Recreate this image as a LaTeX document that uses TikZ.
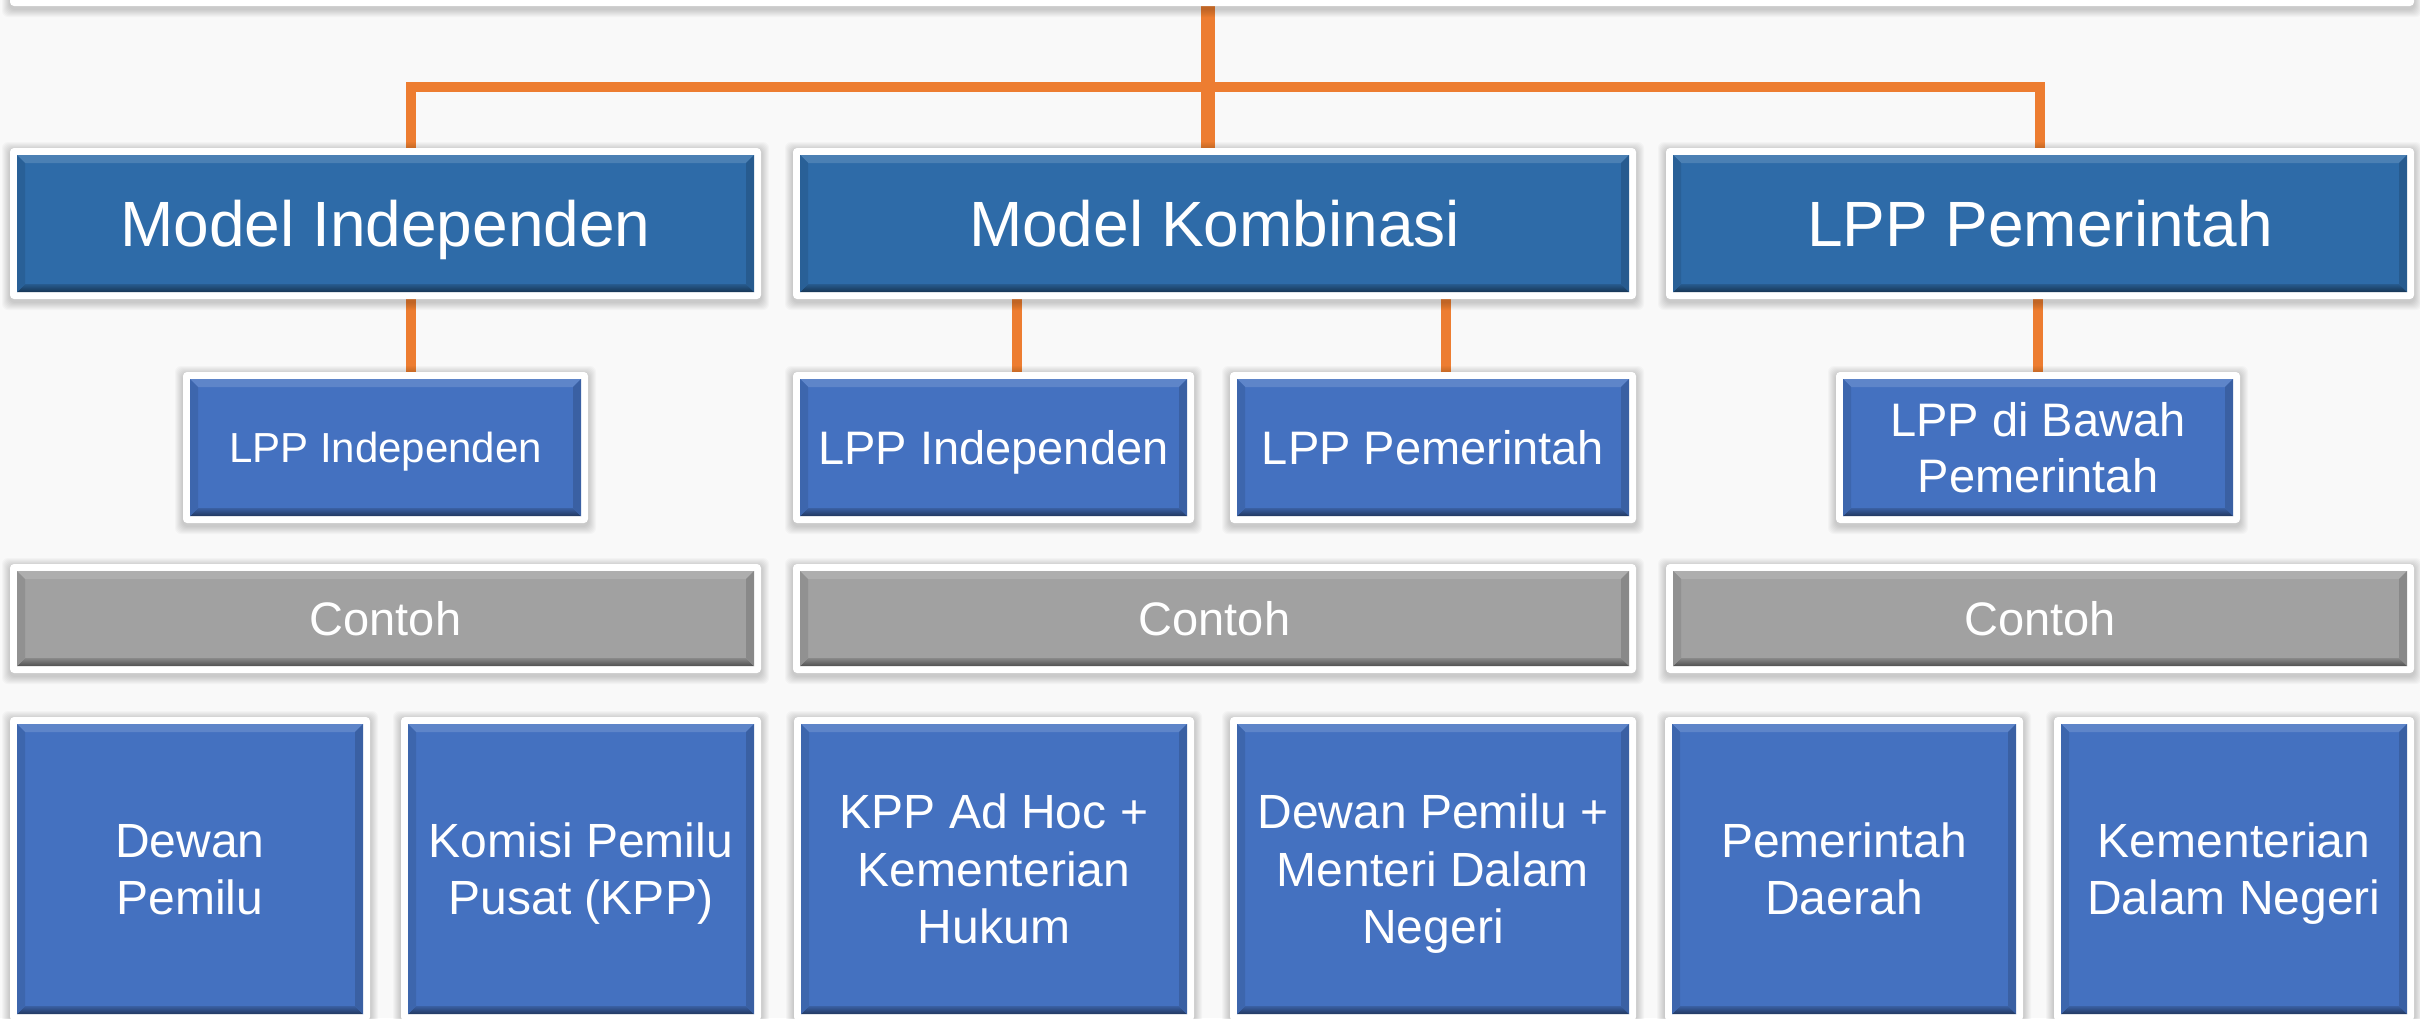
\documentclass[tikz,border=0pt]{standalone}
\usepackage{fontspec}
\setmainfont{Liberation Sans}
\usetikzlibrary{calc}
\pgfdeclarelayer{bg}
\pgfsetlayers{bg,main}
\definecolor{bgc}{HTML}{F9F9F9}
\definecolor{bluea}{HTML}{2E6BA8}
\definecolor{blueb}{HTML}{4471C0}
\definecolor{grayc}{HTML}{A1A1A1}
\definecolor{orl}{HTML}{ED7D31}
\tikzset{
  tone/.style={font=\fontsize{64}{77}\selectfont, text height=45.8pt, text depth=0pt},
  tsmall/.style={font=\fontsize{42}{50}\selectfont, text height=30.1pt, text depth=0pt},
  ttwo/.style={font=\fontsize{47}{56.5}\selectfont, text height=33.7pt, text depth=0pt},
  ttwob/.style={font=\fontsize{47}{56.5}\selectfont, text height=90.2pt, text depth=0pt},
  tthreeb/.style={font=\fontsize{48}{57.5}\selectfont, text height=91.9pt, text depth=0pt},
  tthreec/.style={font=\fontsize{48}{57.5}\selectfont, text height=149.4pt, text depth=0pt},
  conn/.style={draw=orl, line width=10pt},
  connmain/.style={draw=orl, line width=14pt},
}
% #1 name, #2 x1, #3 y1, #4 x2, #5 y2, #6 colour, #7 text style, #8 text
\newcommand\bx[8]{%
  \foreach \i in {1,...,8}{\fill[black,opacity=0.022,rounded corners=6pt] (#2-\i,#3-\i+2) rectangle (#4+\i,#5+\i+3);}
  \fill[white,rounded corners=4pt] (#2,#3) rectangle (#4,#5);
  \fill[#6] (#2+7,#3+7) rectangle (#4-7,#5-7);
  \fill[#6!86!white] (#2+7,#3+7) -- (#4-7,#3+7) -- (#4-15,#3+15) -- (#2+15,#3+15) -- cycle;
  \shade[top color=#6!85!black, bottom color=#6!50!black] (#2+7,#5-7) -- (#4-7,#5-7) -- (#4-15,#5-15) -- (#2+15,#5-15) -- cycle;
  \fill[#6!90!black] (#2+7,#3+7) -- (#2+15,#3+15) -- (#2+15,#5-15) -- (#2+7,#5-7) -- cycle;
  \fill[#6!85!black] (#4-7,#3+7) -- (#4-15,#3+15) -- (#4-15,#5-15) -- (#4-7,#5-7) -- cycle;
  \pgfmathsetmacro\bxcx{(#2+#4)/2}%
  \pgfmathsetmacro\bxcy{(#3+#5)/2}%
  \pgfmathsetmacro\bxw{#4-#2}%
  \pgfmathsetmacro\bxh{#5-#3}%
  \node[#7,text=white,align=center,minimum width=\bxw pt,minimum height=\bxh pt,inner sep=0pt] (#1) at (\bxcx,\bxcy) {#8};
}
\begin{document}
\begin{tikzpicture}[x=1pt,y=-1pt]
\useasboundingbox (0,0) rectangle (2420,1018);
\begin{pgfonlayer}{bg}
\fill[bgc] (0,0) rectangle (2420,1018);
\end{pgfonlayer}
\begin{scope}
\clip (0,0) rectangle (2420,1018);
\bx{top}{10}{-80}{2414}{6}{white}{}{}
\bx{a1}{10}{148}{761}{299}{bluea}{tone}{Model Independen}
\bx{k1}{793}{148}{1636}{299}{bluea}{tone}{Model Kombinasi}
\bx{c1}{1666}{148}{2414}{299}{bluea}{tone}{LPP Pemerintah}
\bx{a2}{183}{372}{588}{523}{blueb}{tsmall}{LPP Independen}
\bx{k2a}{793}{372}{1194}{523}{blueb}{ttwo}{LPP Independen}
\bx{k2b}{1230}{372}{1636}{523}{blueb}{ttwo}{LPP Pemerintah}
\bx{c2}{1836}{372}{2240}{523}{blueb}{ttwob}{LPP di Bawah\\Pemerintah}
\bx{a3}{10}{564}{761}{673}{grayc}{ttwo}{Contoh}
\bx{k3}{793}{564}{1636}{673}{grayc}{ttwo}{Contoh}
\bx{c3}{1666}{564}{2414}{673}{grayc}{ttwo}{Contoh}
\bx{a4a}{10}{717}{370}{1021}{blueb}{tthreeb}{Dewan\\Pemilu}
\bx{a4b}{401}{717}{761}{1021}{blueb}{tthreeb}{Komisi Pemilu\\Pusat (KPP)}
\bx{k4a}{794}{717}{1194}{1021}{blueb}{tthreec}{KPP Ad Hoc +\\Kementerian\\Hukum}
\bx{k4b}{1230}{717}{1636}{1021}{blueb}{tthreec}{Dewan Pemilu +\\Menteri Dalam\\Negeri}
\bx{c4a}{1665}{717}{2023}{1021}{blueb}{tthreeb}{Pemerintah\\Daerah}
\bx{c4b}{2054}{717}{2414}{1021}{blueb}{tthreeb}{Kementerian\\Dalam Negeri}
\end{scope}
\coordinate (jL) at (411,87);
\coordinate (jC) at (1208,87);
\coordinate (jR) at (2040,87);
\coordinate (xB1) at (1017,0);
\coordinate (xB2) at (1446,0);
\coordinate (xC) at (2038,0);
\begin{pgfonlayer}{bg}
\draw[connmain] (top.south -| jC) -- (k1.north -| jC);
\draw[conn] (a1.north -| jL) -- (jL) -- (jR) -- (c1.north -| jR);
\draw[conn] (a1.south -| jL) -- (a2.north -| jL);
\draw[conn] (k1.south -| xB1) -- (k2a.north -| xB1);
\draw[conn] (k1.south -| xB2) -- (k2b.north -| xB2);
\draw[conn] (c1.south -| xC) -- (c2.north -| xC);
\end{pgfonlayer}
\end{tikzpicture}
\end{document}
